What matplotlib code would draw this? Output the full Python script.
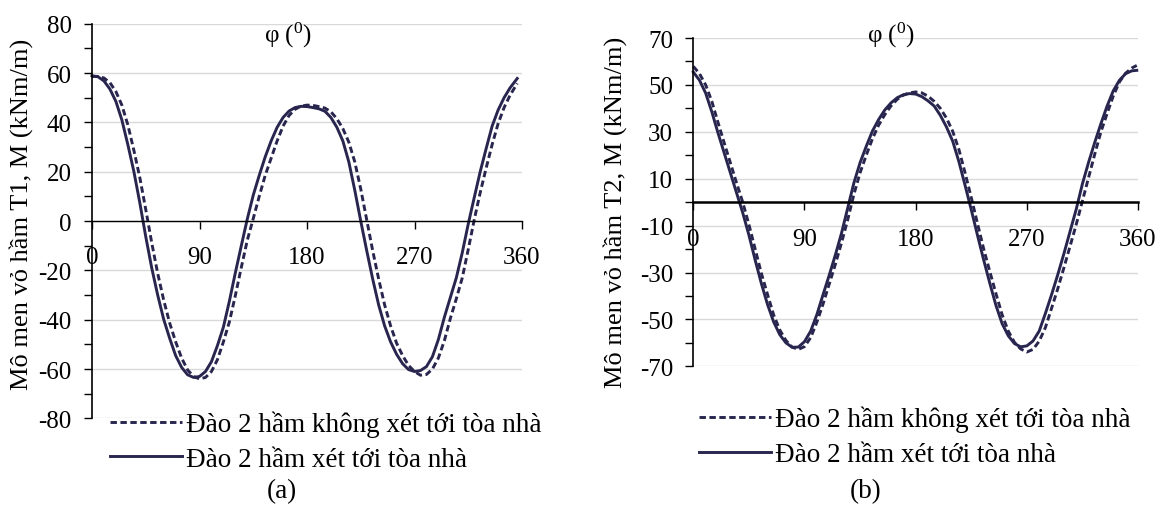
import matplotlib
matplotlib.use('Agg')
import matplotlib.pyplot as plt
from matplotlib.ticker import FixedLocator

plt.rcParams['font.family'] = ['Liberation Serif', 'DejaVu Serif']
plt.rcParams['mathtext.fontset'] = 'custom'
plt.rcParams['mathtext.rm'] = 'Liberation Serif'
plt.rcParams['mathtext.it'] = 'Liberation Serif:italic'

# ---------------- data ----------------
phi_t1 = list(range(0, 351, 5)) + [356]
t1_no_building = [58.6, 58.6, 58.0, 56.1, 52.5, 47.0, 39.0, 28.8, 17.7, 4.7,
                  -8.8, -21.2, -32.0, -41.3, -48.9, -55.5, -60.3, -63.0, -64.0, -63.4,
                  -61.0, -56.2, -49.0, -40.9, -30.2, -18.8, -7.8, 1.0, 10.0, 18.5,
                  25.5, 32.5, 38.5, 42.8, 45.3, 46.6, 47.0, 46.9, 46.4, 45.8,
                  44.3, 41.5, 37.5, 32.0, 24.0, 13.0, 0.5, -12.0, -23.5, -34.0,
                  -42.5, -49.5, -54.5, -58.5, -61.0, -62.5, -62.2, -60.0, -55.5, -48.5,
                  -39.5, -31.5, -23.0, -11.5, 0.5, 11.5, 21.5, 31.0, 39.5, 46.0,
                  51.0, 55.8]
t1_building = [58.9, 58.5, 56.8, 53.5, 48.5, 41.0, 31.0, 20.2, 7.5, -6.3,
               -19.0, -30.0, -39.8, -47.5, -54.5, -59.3, -62.3, -63.4, -63.0, -61.0,
               -57.0, -50.5, -43.0, -32.5, -21.0, -10.0, 0.8, 10.5, 18.5, 26.0,
               32.5, 38.0, 42.0, 44.6, 46.0, 46.5, 46.4, 46.0, 45.5, 44.5,
               42.0, 38.0, 32.5, 24.0, 12.5, 0.0, -12.0, -23.5, -34.0, -42.5,
               -49.0, -54.0, -57.8, -60.2, -61.0, -60.6, -59.0, -55.0, -48.0, -39.0,
               -31.0, -23.0, -12.8, -1.2, 9.5, 20.0, 29.4, 38.5, 45.0, 50.0,
               54.0, 57.8]

phi_t2 = list(range(0, 356, 5)) + [359]
t2_no_building = [57.9, 54.8, 50.0, 43.0, 34.0, 25.3, 16.8, 8.2, 0.0, -9.5,
                  -19.8, -30.2, -39.2, -48.0, -54.5, -59.0, -61.8, -62.8, -61.6, -57.8,
                  -51.2, -43.5, -35.0, -26.5, -17.3, -7.5, 3.3, 12.5, 20.0, 27.0,
                  32.8, 37.3, 41.0, 43.8, 45.6, 46.6, 47.0, 46.6, 45.2, 43.0,
                  40.0, 35.8, 30.2, 22.5, 12.5, 2.0, -9.0, -19.8, -29.5, -39.0,
                  -48.0, -55.0, -59.8, -62.6, -63.9, -62.8, -59.3, -53.5, -45.3, -37.0,
                  -28.0, -18.8, -9.5, 0.5, 10.5, 20.5, 30.0, 37.8, 45.3, 51.3,
                  55.0, 57.2, 58.3]
t2_building = [55.5, 52.0, 46.5, 38.5, 29.5, 21.0, 12.5, 4.0, -4.5, -14.0,
               -24.5, -34.5, -43.5, -51.0, -56.5, -60.0, -61.9, -61.8, -59.5, -55.0,
               -48.0, -39.5, -31.2, -22.5, -13.2, -2.5, 8.2, 16.8, 23.8, 30.3,
               35.2, 39.3, 42.3, 44.5, 45.8, 46.3, 46.1, 45.0, 43.2, 41.0,
               37.0, 32.0, 26.0, 17.3, 7.2, -3.2, -14.0, -24.5, -34.5, -44.0,
               -51.8, -57.0, -60.3, -61.7, -61.3, -59.2, -55.0, -47.5, -39.5, -31.0,
               -22.0, -12.5, -3.0, 7.8, 17.0, 25.5, 33.5, 41.0, 47.5, 52.0,
               54.8, 56.0, 56.2]

x_ticks = [0, 90, 180, 270, 360]
label_no = 'Đào 2 hầm không xét tới tòa nhà'
label_yes = 'Đào 2 hầm xét tới tòa nhà'
ylabel_t1 = 'Mô men vỏ hầm T1, M (kNm/m)'
ylabel_t2 = 'Mô men vỏ hầm T2, M (kNm/m)'
xlabel = 'φ ($^{0}$)'

# ---------------- style ----------------
W, H = 1161, 506
LINE_C = '#28264f'
FS_TICK = 18
FS_LAB = 19
FS_LEG = 19.5

fig = plt.figure(figsize=(W / 100, H / 100), dpi=100)

def px_axes(x0, x1, ytop, ybot):
    return fig.add_axes([x0 / W, 1 - ybot / H, (x1 - x0) / W, (ybot - ytop) / H])

ax1 = px_axes(92, 522, 24.7, 419.4)
ax2 = px_axes(693.3, 1138, 39, 367.3)

def style(ax, ylim, majors, minors, zero_lw):
    ax.set_xlim(0, 360)
    ax.set_ylim(*ylim)
    for s in ('top', 'right'):
        ax.spines[s].set_visible(False)
    ax.spines['bottom'].set_position(('data', 0))
    ax.spines['bottom'].set_linewidth(zero_lw)
    ax.spines['bottom'].set_color('black')
    ax.spines['left'].set_linewidth(1.2)
    ax.spines['left'].set_color('black')
    ax.xaxis.set_major_locator(FixedLocator(x_ticks))
    ax.set_xticklabels([str(v) for v in x_ticks])
    ax.yaxis.set_major_locator(FixedLocator(majors))
    ax.yaxis.set_minor_locator(FixedLocator(minors))
    ax.set_yticklabels([str(v) for v in majors])
    ax.tick_params(axis='x', direction='out', length=5.8, width=1.0, labelsize=FS_TICK, pad=12.5)
    ax.tick_params(axis='y', which='both', direction='out', length=5.5, width=1.0,
                   labelsize=FS_TICK, pad=9)
    ax.yaxis.grid(True, which='major', color='#d9d9d9', linewidth=1.0)
    ax.set_axisbelow(True)

style(ax1, (-80, 80), list(range(-80, 81, 20)), list(range(-70, 71, 20)), 1.0)
style(ax2, (-70, 70), list(range(-70, 71, 20)), list(range(-60, 61, 20)), 1.8)

def draw(ax, phi, no_b, yes_b):
    l1, = ax.plot(phi, no_b, color=LINE_C, lw=2.1, dashes=(2.2, 1.2), clip_on=False)
    l2, = ax.plot(phi, yes_b, color=LINE_C, lw=2.1, clip_on=False)
    return l1, l2

h1 = draw(ax1, phi_t1, t1_no_building, t1_building)
h2 = draw(ax2, phi_t2, t2_no_building, t2_building)

for ax, h, (lx, ly) in ((ax1, h1, (110, 412)), (ax2, h2, (699, 407))):
    ax.legend(h, [label_no, label_yes], loc='upper left',
              bbox_to_anchor=(lx / W, 1 - ly / H), bbox_transform=fig.transFigure,
              frameon=False, fontsize=FS_LEG, handlelength=2.66, handletextpad=0.15,
              labelspacing=0.35, borderpad=0, borderaxespad=0)

fig.text(21 / W, 1 - 214.5 / H, ylabel_t1, rotation=90, ha='center', va='center', fontsize=FS_LAB)
fig.text(615 / W, 1 - 212.5 / H, ylabel_t2, rotation=90, ha='center', va='center', fontsize=FS_LAB)
fig.text(288 / W, 1 - 35 / H, xlabel, ha='center', va='center', fontsize=FS_TICK)
fig.text(891 / W, 1 - 35 / H, xlabel, ha='center', va='center', fontsize=FS_TICK)
fig.text(282 / W, 1 - 492 / H, '(a)', ha='center', va='center', fontsize=FS_LEG)
fig.text(866 / W, 1 - 492 / H, '(b)', ha='center', va='center', fontsize=FS_LEG)

fig.savefig('out.png', dpi=100)
